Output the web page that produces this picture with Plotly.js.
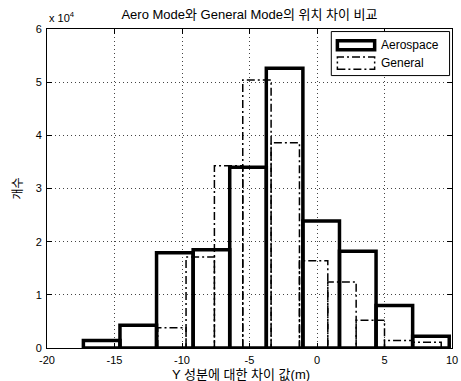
<!DOCTYPE html>
<html>
<head>
<meta charset="utf-8">
<script src="https://cdn.plot.ly/plotly-3.0.1.min.js"></script>
<style>html,body{margin:0;padding:0;background:#fff;}#chart{width:461px;height:381px;}</style>
</head>
<body>
<div id="chart"></div>
<script>
// ---- data ----
const aeroCenters = [-15.95, -13.24, -10.53, -7.82, -5.11, -2.40, 0.31, 3.02, 5.73, 8.44];
const aeroCounts  = [1400, 4300, 17900, 18500, 34000, 52600, 23900, 18200, 8000, 2200];
const aeroBinWidth = 2.71;

const generalCenters = [-10.75, -8.65, -6.55, -4.45, -2.35, -0.25, 1.85, 3.95, 6.05, 8.15];
const generalCounts  = [3800, 17100, 34300, 50400, 38600, 16400, 12400, 5200, 1400, 1100];
const generalBinWidth = 2.10;

const xTickVals = [-20, -15, -10, -5, 0, 5, 10];
const xTickText = ['-20', '-15', '-10', '-5', '0', '5', '10'];
const yTickVals = [0, 10000, 20000, 30000, 40000, 50000, 60000];
const yTickText = ['0', '1', '2', '3', '4', '5', '6'];

const titleText = 'Aero Mode와 General Mode의 위치 차이 비교';
const xTitleText = 'Y 성분에 대한 차이 값(m)';
const yTitleText = '개수';
const legendNames = ['Aerospace', 'General'];

// build histogram outlines from bin centers/counts
function outline(centers, counts, w) {
  const xs = [], ys = [];
  centers.forEach((c, i) => {
    const l = c - w / 2, r = c + w / 2, h = counts[i];
    xs.push(l, l, r, r, l, null);
    ys.push(0, h, h, 0, 0, null);
  });
  return {xs, ys};
}
const A = outline(aeroCenters, aeroCounts, aeroBinWidth);
const G = outline(generalCenters, generalCounts, generalBinWidth);

const FONT = 'Liberation Sans, Arial, Noto Sans CJK KR, sans-serif';

const traces = [
  {type: 'scatter', mode: 'lines', x: A.xs, y: A.ys, name: legendNames[0],
   line: {color: '#000', width: 3.5}, cliponaxis: false, connectgaps: false, hoverinfo: 'skip'},
  {type: 'scatter', mode: 'lines', x: G.xs, y: G.ys, name: legendNames[1],
   line: {color: '#000', width: 1.5, dash: '8px,3px,2px,3px'}, cliponaxis: false, connectgaps: false, hoverinfo: 'skip'}
];

// legend box geometry (paper coords)
const lx0 = 0.702, lx1 = 0.994, ly0 = 0.854, ly1 = 0.992;
const sx0 = 0.717, sx1 = 0.809;

const layout = {
  width: 461, height: 381,
  margin: {l: 47, r: 8.5, t: 29, b: 32.7, pad: 0},
  paper_bgcolor: '#fff', plot_bgcolor: '#fff',
  showlegend: false,
  font: {family: FONT, size: 12, color: '#000'},
  title: {text: titleText, x: 0.5, xref: 'paper', xanchor: 'center', y: 0.961, yanchor: 'middle',
          font: {family: FONT, size: 13, color: '#000'}},
  xaxis: {
    range: [-20, 10], tickvals: xTickVals, ticktext: xTickText, ticks: 'inside', ticklen: 5, tickcolor: '#000',
    showline: true, linecolor: '#000', linewidth: 1, mirror: 'ticks', ticklabelstandoff: 2,
    showgrid: true, gridcolor: '#444', griddash: '1px,3px', gridwidth: 1, zeroline: false,
    tickfont: {family: FONT, size: 11}, fixedrange: true
  },
  yaxis: {
    range: [0, 60000], tickvals: yTickVals, ticktext: yTickText, ticks: 'inside', ticklen: 5, tickcolor: '#000',
    showline: true, linecolor: '#000', linewidth: 1, mirror: 'ticks', ticklabelstandoff: 2,
    showgrid: true, gridcolor: '#444', griddash: '1px,3px', gridwidth: 1, zeroline: false,
    tickfont: {family: FONT, size: 11}, fixedrange: true
  },
  shapes: [
    {type: 'rect', xref: 'paper', yref: 'paper', x0: lx0, x1: lx1, y0: ly0, y1: ly1,
     fillcolor: '#fff', line: {color: '#000', width: 1}, layer: 'above'},
    {type: 'rect', xref: 'paper', yref: 'paper', x0: sx0, x1: sx1, y0: 0.935, y1: 0.963,
     fillcolor: 'rgba(0,0,0,0)', line: {color: '#000', width: 3.5}, layer: 'above'},
    {type: 'rect', xref: 'paper', yref: 'paper', x0: sx0, x1: sx1, y0: 0.874, y1: 0.912,
     fillcolor: 'rgba(0,0,0,0)', line: {color: '#000', width: 1.5, dash: '8px,3px,2px,3px'}, layer: 'above'}
  ],
  annotations: [
    {xref: 'paper', yref: 'paper', x: sx1 + 0.01, y: 0.949, xanchor: 'left', yanchor: 'middle',
     text: legendNames[0], showarrow: false, font: {family: FONT, size: 12}},
    {xref: 'paper', yref: 'paper', x: sx1 + 0.01, y: 0.893, xanchor: 'left', yanchor: 'middle',
     text: legendNames[1], showarrow: false, font: {family: FONT, size: 12}},
    {xref: 'paper', yref: 'paper', x: 0, y: 1, xanchor: 'left', yanchor: 'bottom', yshift: 3,
     text: 'x 10<sup>4</sup>', showarrow: false, font: {family: FONT, size: 11}},
    {xref: 'paper', yref: 'paper', x: 0.48, y: -0.082, xanchor: 'center', yanchor: 'middle',
     text: xTitleText, showarrow: false, font: {family: FONT, size: 13}},
    {xref: 'paper', yref: 'paper', x: -0.074, y: 0.5, xanchor: 'center', yanchor: 'middle', textangle: -90,
     text: yTitleText, showarrow: false, font: {family: FONT, size: 12}}
  ]
};

Plotly.newPlot('chart', traces, layout, {displayModeBar: false, staticPlot: true});
</script>
</body>
</html>
